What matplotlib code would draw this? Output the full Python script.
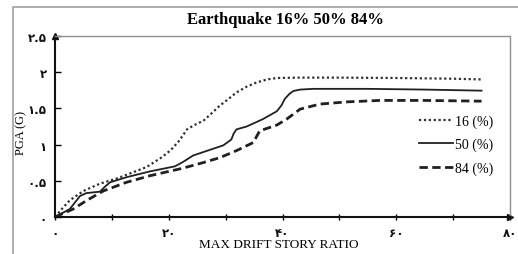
import matplotlib
matplotlib.use("Agg")
import matplotlib.pyplot as plt
from matplotlib.patches import Rectangle

x16 = [0, 1.3, 2.6, 5.0, 7.9, 10.8, 13.8, 16.1, 18.5, 20.3, 21.7, 22.6, 23.2, 24.5, 26.1, 27.5, 29.0, 30.5, 31.9, 33.7, 35.5, 37.3, 39.0, 42.5, 50, 60, 70, 75]
y16 = [0, 0.12, 0.23, 0.36, 0.46, 0.53, 0.62, 0.69, 0.81, 0.92, 1.04, 1.14, 1.21, 1.27, 1.33, 1.43, 1.54, 1.63, 1.72, 1.80, 1.86, 1.90, 1.92, 1.925, 1.925, 1.92, 1.91, 1.90]

x50 = [0, 2.6, 3.5, 4.4, 5.5, 6.7, 7.9, 8.8, 9.7, 12.6, 16.7, 21.1, 22.5, 24.3, 29.6, 31.0, 31.4, 31.9, 33.7, 36.5, 39.0, 39.8, 40.4, 41.2, 41.9, 43.1, 45.4, 55, 65, 75]
y50 = [0, 0.11, 0.20, 0.29, 0.33, 0.34, 0.35, 0.42, 0.48, 0.55, 0.63, 0.70, 0.76, 0.85, 0.99, 1.07, 1.15, 1.21, 1.25, 1.35, 1.46, 1.54, 1.63, 1.70, 1.74, 1.76, 1.77, 1.77, 1.76, 1.745]

x84 = [0, 3.2, 5.6, 8.5, 12.6, 16.7, 21.7, 23.2, 26.0, 29.0, 32.0, 34.9, 35.5, 36.0, 37.5, 39.0, 40.7, 43.1, 46.6, 51.3, 57.1, 65, 75]
y84 = [0, 0.11, 0.23, 0.36, 0.48, 0.57, 0.66, 0.69, 0.75, 0.82, 0.92, 1.03, 1.12, 1.19, 1.23, 1.27, 1.35, 1.49, 1.56, 1.59, 1.61, 1.61, 1.60]

xtick_labels = ["۰", "۲۰", "۴۰", "۶۰", "۸۰"]
yticks = [0, 0.5, 1, 1.5, 2, 2.5]
ytick_labels = ["۰", "۰.۵", "۱", "۱.۵", "۲", "۲.۵"]

W, H = 518, 255
fig = plt.figure(figsize=(W / 100, H / 100), dpi=100)
fig.patches.append(Rectangle((13 / W, -0.1), 1.2, (H - 8) / H + 0.1, transform=fig.transFigure,
                             fill=False, edgecolor="#a0a0a0", linewidth=1.2))
ax = fig.add_axes([55 / W, (H - 218) / H, (510 - 55) / W, (218 - 37) / H])

ax.plot(x16, y16, color="#303030", linestyle=(0, (1, 1.2)), linewidth=1.6, label="16 (%)")
ax.plot(x50, y50, color="#202020", linestyle="-", linewidth=1.3, label="50 (%)")
ax.plot(x84, y84, color="#202020", linestyle=(0, (3, 1.6)), linewidth=2.0, label="84 (%)")

ax.set_xlim(0, 80)
ax.set_ylim(0, 2.5)
ax.set_xticks(list(range(0, 81, 10)))
ax.set_xticklabels([xtick_labels[i // 2] if i % 2 == 0 else "" for i in range(9)])
ax.set_yticks(yticks)
ax.set_yticklabels(ytick_labels)
for lab in ax.get_xticklabels() + ax.get_yticklabels():
    lab.set_family(["DejaVu Sans"])
    lab.set_fontweight("bold")
    lab.set_fontsize(8.5)
    lab.set_color("#111111")
ax.tick_params(axis="x", direction="inout", length=5, width=1, pad=4)
ax.tick_params(axis="y", direction="in", length=4, width=1, pad=6)

for s in ["top", "right"]:
    ax.spines[s].set_linestyle((0, (1, 1)))
    ax.spines[s].set_color("#909090")
    ax.spines[s].set_linewidth(1.0)
for s in ["left", "bottom"]:
    ax.spines[s].set_color("#111111")
    ax.spines[s].set_linewidth(1.5)
ax.plot(1, 0, ">", color="#111111", markersize=5, transform=ax.transAxes, clip_on=False)
ax.plot(0, 1, "^", color="#111111", markersize=5, transform=ax.transAxes, clip_on=False)

ax.set_xlabel("MAX DRIFT STORY RATIO", family="Liberation Serif", fontsize=9.5)
ax.xaxis.set_label_coords(0.492, -0.15)
ax.xaxis.label.set_va("center")
ax.set_ylabel("PGA (G)", family="Liberation Serif", fontsize=9)
ax.yaxis.set_label_coords(-0.075, 0.47)
ax.yaxis.label.set_va("center")
fig.text(285 / W, 1 - 20 / H, "Earthquake 16% 50% 84%", family="Liberation Serif",
         fontweight="bold", fontsize=12, ha="center", va="center")

leg = ax.legend(loc="center right", bbox_to_anchor=(0.99, 0.4), frameon=False,
                prop={"family": "Liberation Serif", "size": 10}, handlelength=2.4,
                handletextpad=0.15, labelspacing=0.7)

fig.savefig("out.png", dpi=100)
